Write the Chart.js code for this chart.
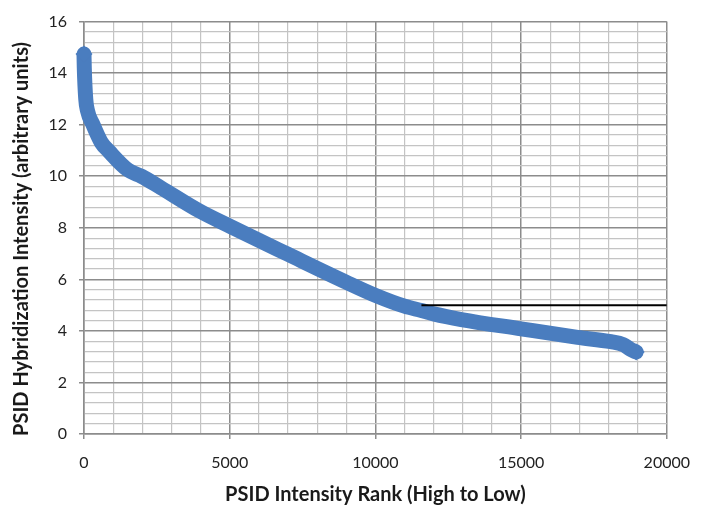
<!DOCTYPE html>
<html>
<head>
<meta charset="utf-8">
<script src="https://cdn.jsdelivr.net/npm/chart.js@4/dist/chart.umd.min.js"></script>
<style>
  html, body { margin: 0; padding: 0; background: #fff; }
  #wrap { width: 704px; height: 512px; }
</style>
</head>
<body>
<div id="wrap"><canvas id="chart" width="704" height="512"></canvas></div>
<script>
// values (rank, intensity)
const rankX = [0, 10, 60, 120, 310, 600, 855, 1500, 1970, 2630, 3950, 5025, 7000, 9000, 10000, 11000, 11580, 12000, 12950, 15000, 16940, 18080, 18500, 18750, 18950];
const intensityY = [14.74, 14.2, 13.0, 12.54, 12.0, 11.3, 10.97, 10.25, 10.0, 9.56, 8.66, 8.05, 6.97, 5.89, 5.38, 4.96, 4.79, 4.66, 4.44, 4.08, 3.75, 3.58, 3.47, 3.29, 3.18];

// black reference line at 5
const refLineX = [11580, 20000];
const refLineY = [5, 5];

const xTickLabels = [0, 5000, 10000, 15000, 20000];
const yTickLabels = [0, 2, 4, 6, 8, 10, 12, 14, 16];

const BLUE = '#4a7dbf';
const MAJOR = '#8c8c8c';
const MINOR = '#c4c4c4';
const TITLE_FONT = 'bold 20px Lato';
const Y_TITLE = 'PSID Hybridization Intensity (arbitrary units)';

function isMajor(v, list) {
    return list.some(t => Math.abs(t - v) < 1e-6);
}

// y title sits a bit lower than the plot centre in the original
const yTitlePlugin = {
    id: 'yTitle',
    afterDraw(chart) {
        const c = chart.ctx;
        c.save();
        c.translate(22, 239);
        c.rotate(-Math.PI / 2);
        c.font = TITLE_FONT;
        c.fillStyle = '#1a1a1a';
        c.textAlign = 'center';
        c.textBaseline = 'middle';
        c.fillText(Y_TITLE, 0, 0);
        c.restore();
    }
};

const ctx = document.getElementById('chart').getContext('2d');
const lastIdx = rankX.length - 1;

new Chart(ctx, {
    type: 'scatter',
    data: {
        datasets: [
            {
                data: rankX.map((x, i) => ({ x: x, y: intensityY[i] })),
                showLine: true,
                clip: false,
                borderColor: BLUE,
                borderWidth: 15,
                borderCapStyle: 'round',
                borderJoinStyle: 'round',
                cubicInterpolationMode: 'monotone',
                pointStyle: 'rectRot',
                pointRadius: c => (c.dataIndex === 0 || c.dataIndex === lastIdx) ? 8.5 : 0,
                pointBackgroundColor: BLUE,
                pointBorderWidth: 0,
                order: 2
            },
            {
                data: refLineX.map((x, i) => ({ x: x, y: refLineY[i] })),
                showLine: true,
                borderColor: '#000',
                borderWidth: 2,
                pointRadius: 0,
                order: 1
            }
        ]
    },
    options: {
        responsive: false,
        animation: false,
        layout: { padding: { top: 13, right: 36, left: 0, bottom: 0 } },
        plugins: {
            legend: { display: false },
            tooltip: { enabled: false }
        },
        scales: {
            x: {
                type: 'linear',
                min: 0,
                max: 20000,
                afterFit: s => { s.height = 78; },
                ticks: {
                    stepSize: 1000,
                    autoSkip: false,
                    maxRotation: 0,
                    padding: 14,
                    color: '#222',
                    font: { family: 'Lato', size: 16 },
                    callback: v => isMajor(v, xTickLabels) ? String(v) : ''
                },
                grid: {
                    color: c => isMajor(c.tick.value, xTickLabels) ? MAJOR : MINOR,
                    lineWidth: c => isMajor(c.tick.value, xTickLabels) ? 1.5 : 1.2,
                    tickColor: c => isMajor(c.tick.value, xTickLabels) ? MAJOR : 'rgba(0,0,0,0)',
                    tickLength: 5
                },
                border: { color: MAJOR, width: 1.5 },
                title: {
                    display: true,
                    text: 'PSID Intensity Rank (High to Low)',
                    color: '#1a1a1a',
                    font: { family: 'Lato', size: 20, weight: 'bold' },
                    padding: { top: 0, bottom: 5 }
                }
            },
            y: {
                type: 'linear',
                min: 0,
                max: 16,
                afterFit: s => { s.width = 84; },
                ticks: {
                    stepSize: 0.4,
                    autoSkip: false,
                    padding: 12,
                    color: '#222',
                    font: { family: 'Lato', size: 16 },
                    callback: v => isMajor(v, yTickLabels) ? String(Math.round(v)) : ''
                },
                grid: {
                    color: c => isMajor(c.tick.value, yTickLabels) ? MAJOR : MINOR,
                    lineWidth: c => isMajor(c.tick.value, yTickLabels) ? 1.5 : 1.2,
                    tickColor: c => isMajor(c.tick.value, yTickLabels) ? MAJOR : 'rgba(0,0,0,0)',
                    tickLength: 5
                },
                border: { color: MAJOR, width: 1.5 }
            }
        }
    },
    plugins: [yTitlePlugin]
});
</script>
</body>
</html>
